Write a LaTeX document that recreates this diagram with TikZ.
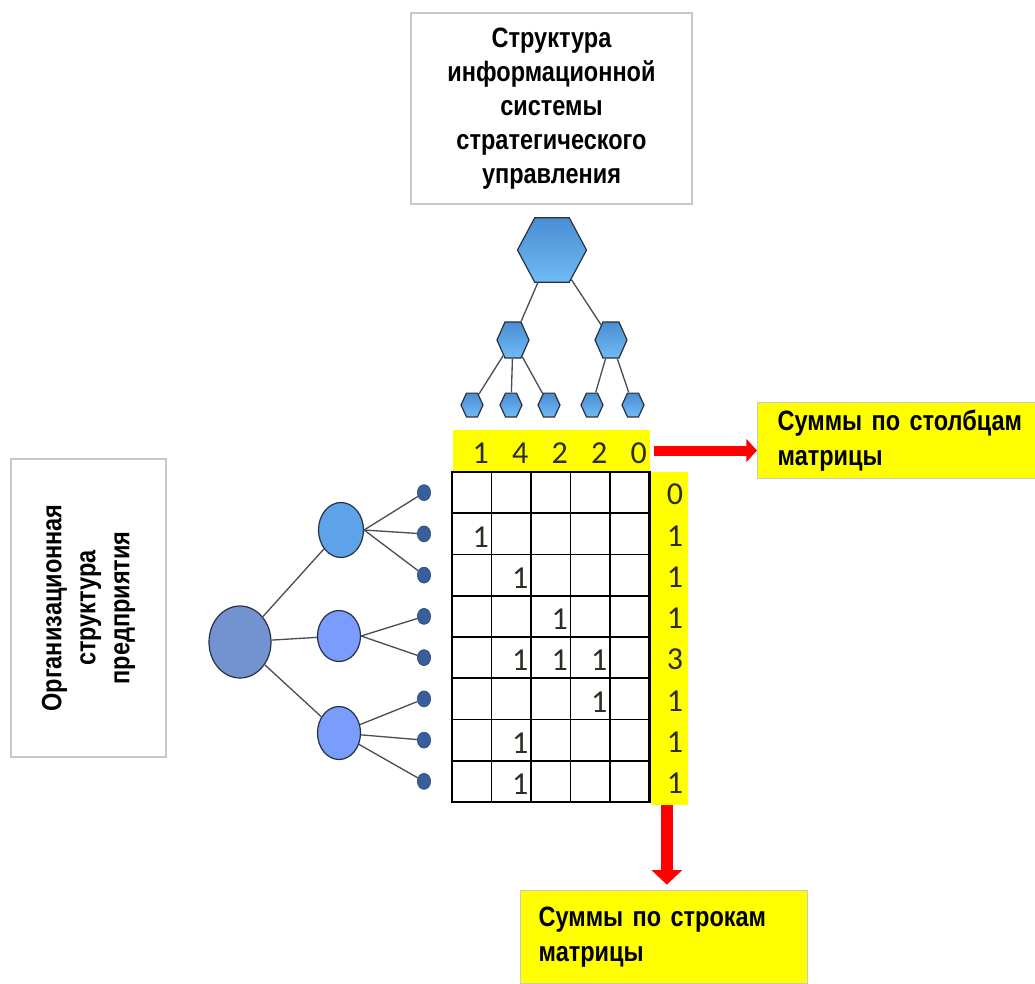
\documentclass[tikz,border=0pt]{standalone}
\usepackage{fontspec}
\setmainfont{Liberation Sans}[FakeStretch=0.84]
\newfontfamily\digitfont{Carlito}
\usetikzlibrary{shapes.geometric,arrows.meta}

\definecolor{hexblue}{RGB}{74,142,210}
\definecolor{hexlight}{RGB}{112,186,246}
\definecolor{hexline}{RGB}{40,48,62}
\definecolor{rootball}{RGB}{114,146,208}
\definecolor{ballA}{RGB}{94,162,234}
\definecolor{ballB}{RGB}{122,156,252}
\definecolor{leafdot}{RGB}{56,94,156}
\definecolor{boxgray}{RGB}{200,200,200}
\definecolor{sumyellow}{RGB}{255,255,0}
\definecolor{digitcol}{RGB}{45,45,35}

\tikzset{
  hexnode/.style={regular polygon, regular polygon sides=6, inner sep=0pt,
    draw=hexline, line width=0.9pt, top color=hexblue, bottom color=hexlight},
  ball/.style={ellipse, inner sep=0pt, draw=hexline, line width=0.9pt},
  leaf/.style={ellipse, inner sep=0pt, minimum width=10pt, minimum height=12pt,
    fill=leafdot, draw=leafdot!70!black, line width=0.4pt},
  tree/.style={draw=hexline!85, line width=1pt},
  graybox/.style={draw=boxgray, line width=1.5pt, fill=white, align=center,
    font=\fontsize{21}{25.5}\selectfont\bfseries},
  sumbox/.style={draw=boxgray, line width=1pt, fill=sumyellow, align=left,
    inner ysep=4pt, font=\fontsize{21}{26}\selectfont\bfseries},
  band/.style={fill=sumyellow, inner sep=0pt},
  digitnode/.style={inner sep=0pt, text=digitcol, font=\digitfont\fontsize{24}{24}\selectfont},
  gridline/.style={line width=1.3pt},
  sumarrow/.style={draw=red, line cap=butt}
}

\begin{document}
\begin{tikzpicture}[x=0.75pt,y=0.75pt,yscale=-1,xscale=1]
\useasboundingbox (0,0) rectangle (1035,983);

% Text Node: information system
\node[graybox, minimum width=210.75pt, minimum height=143.25pt] (isbox) at (551.5,108.5)
  {Структура\\информационной\\системы\\стратегического\\управления};

%Shape: hexagon tree
\node[hexnode, minimum size=51.75pt, yscale=1.08] (hroot) at (552,250) {};
\node[hexnode, minimum size=24pt, yscale=1.3] (hleft) at (513,340) {};
\node[hexnode, minimum size=24pt, yscale=1.3] (hright) at (611,340) {};
\foreach \x [count=\i] in {472,511,549,592,633}
  \node[hexnode, minimum size=16.5pt, yscale=1.25] (hleaf\i) at (\x,405) {};

\draw[tree] (hroot) -- (hleft);
\draw[tree] (hroot) -- (hright);
\foreach \i in {1,2,3} \draw[tree] (hleft) -- (hleaf\i);
\foreach \i in {4,5} \draw[tree] (hright) -- (hleaf\i);

% Text Node: organisation
\node[graybox, rotate=90, minimum width=223.5pt, minimum height=116.25pt] (orgbox) at (88.5,608)
  {Организационная\\структура\\предприятия};

%Shape: circle tree
\node[ball, minimum width=46.5pt, minimum height=54pt, fill=rootball] (oroot) at (240,642) {};
\node[ball, minimum width=33.75pt, minimum height=41.25pt, fill=ballA] (omid1) at (341,530) {};
\node[ball, minimum width=32.25pt, minimum height=38.25pt, fill=ballB] (omid2) at (339,636) {};
\node[ball, minimum width=32.25pt, minimum height=39.75pt, fill=ballB] (omid3) at (339,733) {};
\foreach \i in {1,...,8}
  \node[leaf] (oleaf\i) at (424,{472+41.25*(\i-0.5)}) {};

\draw[tree] (oroot) -- (omid1);
\draw[tree] (oroot) -- (omid2);
\draw[tree] (oroot) -- (omid3);
\foreach \i in {1,2,3} \draw[tree] (omid1.east) -- (oleaf\i);
\foreach \i in {4,5} \draw[tree] (omid2.east) -- (oleaf\i);
\foreach \i in {6,7,8} \draw[tree] (omid3) -- (oleaf\i);

%Shape: sum bands
\node[band, minimum width=147.75pt, minimum height=30.75pt] (colsum) at (551.5,450.5) {};
\node[band, minimum width=27.75pt, minimum height=249.75pt] (rowsum) at (669.5,638.5) {};

%Shape: matrix
\foreach \i in {1,...,4} \draw[gridline] ({452+39.5*\i},472) -- ({452+39.5*\i},802);
\foreach \j in {1,...,7} \draw[gridline] (452,{472+41.25*\j}) -- (649.5,{472+41.25*\j});
\node[draw, line width=2.2pt, inner sep=0pt, minimum width=148.125pt, minimum height=247.5pt] (mat) at (550.75,637) {};

\foreach \r/\c in {2/1,3/2,4/3,5/2,5/3,5/4,6/4,7/2,8/2}
  \node[digitnode] (cell\r\c) at ({452+39.5*(\c-0.5)+9},{472+41.25*(\r-0.5)+3}) {1};
\foreach \v [count=\i] in {1,4,2,2,0}
  \node[digitnode] (csum\i) at ({452+39.5*(\i-0.5)+9},453) {\v};
\foreach \v [count=\i] in {0,1,1,1,3,1,1,1}
  \node[digitnode] (rsum\i) at (675,{472+41.25*(\i-0.5)+2}) {\v};

% Text Node: sums
\node[sumbox, anchor=north west, inner xsep=15pt, text width=195pt, minimum height=57pt] (colbox) at (757,402)
  {Суммы по столбцам\\матрицы};
\node[sumbox, anchor=north west, inner xsep=13.5pt, text width=188pt, minimum height=69.75pt] (rowbox) at (520,890)
  {Суммы по строкам\\матрицы};

%Straight Lines: arrows
\draw[sumarrow, line width=7.5pt, -{Triangle[width=17pt,length=8pt]}, shorten <=3pt]
  (colsum.east) -- (colbox.west |- colsum.east);
\draw[sumarrow, line width=9pt, -{Triangle[width=22.5pt,length=11pt]}, shorten >=4pt]
  ([xshift=-2pt]rowsum.south) -- ([xshift=-2pt]rowsum.south |- rowbox.north);

\end{tikzpicture}
\end{document}
